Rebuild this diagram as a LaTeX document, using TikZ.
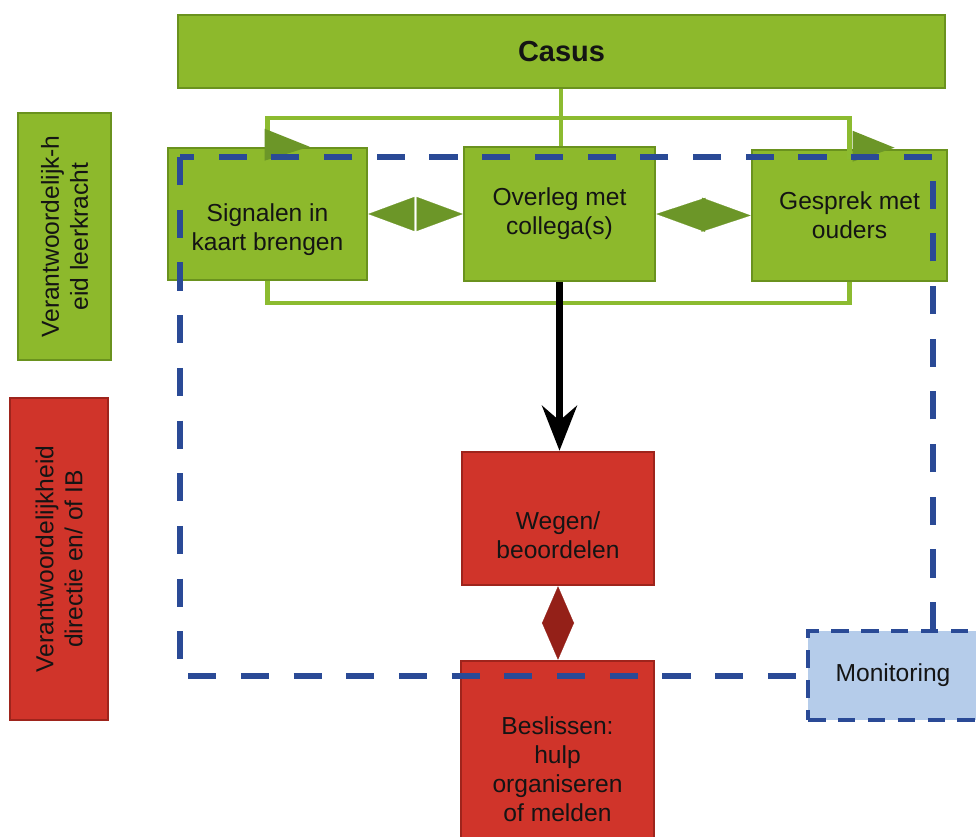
\documentclass[tikz,border=0pt]{standalone}
\usepackage{fontspec}
\setmainfont{Liberation Sans}
\usepackage{tikz}
\usetikzlibrary{shapes,arrows,arrows.meta,positioning}
\definecolor{gfill}{RGB}{141,185,44}
\definecolor{gedge}{RGB}{106,146,30}
\definecolor{glink}{RGB}{140,187,48}
\definecolor{gtip}{RGB}{108,150,40}
\definecolor{rfill}{RGB}{208,52,42}
\definecolor{redge}{RGB}{158,36,28}
\definecolor{rtip}{RGB}{148,32,24}
\definecolor{bdash}{RGB}{42,74,150}
\definecolor{mfill}{RGB}{181,204,234}

\begin{document}
\begin{tikzpicture}[x=0.02cm, y=-0.02cm,
		box/.style={draw, line width=1.5pt, align=center, inner sep=0pt, font=\fontsize{14}{16.5}\selectfont, text=black!92},
		gbox/.style={box, fill=gfill, draw=gedge},
		rbox/.style={box, fill=rfill, draw=redge},
		boxtext/.style={align=center, inner sep=0pt, font=\fontsize{14}{16.5}\selectfont, text=black!92},
		glink/.style={draw=glink, line width=2.4pt},
		bframe/.style={draw=bdash, line width=3pt, dash pattern=on 16pt off 14pt},
		gdiamond/.style={draw=white, line width=0.1pt, {Triangle[length=0.92cm,width=0.68cm,color=gtip]}-{Triangle[length=0.92cm,width=0.68cm,color=gtip]}}]
	\useasboundingbox (0,0) rectangle (976,837);
	\clip (0,0) rectangle (976,837);

	% labels left
	\node[gbox, rotate=90, minimum width=4.94cm, minimum height=1.86cm] (lblA) at (64.5,236.5) {Verantwoordelijk-h\\eid leerkracht};
	\node[rbox, rotate=90, minimum width=6.44cm, minimum height=1.96cm] (lblB) at (59,559) {Verantwoordelijkheid\\directie en/ of IB};

	% boxes
	\node[gbox, minimum width=15.34cm, minimum height=1.46cm, font=\fontsize{16.5}{19}\selectfont\bfseries] (casus) at (561.5,51.5) {Casus};
	\node[gbox, minimum width=3.98cm, minimum height=2.64cm] (sig) at (267.5,214) {};
	\node[boxtext] (sigtxt) at (267.5,230) {Signalen in\\kaart brengen};
	\node[gbox, minimum width=3.82cm, minimum height=2.68cm] (ovl) at (559.5,214) {Overleg met\\collega(s)};
	\node[gbox, minimum width=3.9cm, minimum height=2.62cm] (ges) at (849.5,215.5) {Gesprek met\\ouders};
	\node[rbox, minimum width=3.84cm, minimum height=2.66cm] (weg) at (558,518.5) {};
	\node[boxtext] (wegtxt) at (558,535) {Wegen/\\beoordelen};
	\node[rbox, minimum width=3.86cm, minimum height=4.32cm] (bes) at (557.5,769) {Beslissen:\\hulp\\organiseren\\of melden};

	% green links
	\coordinate (split) at (561,118);
	\draw[glink] (casus.south -| split) -- (ovl.north -| split);
	\draw[glink] (split) -| ([yshift=-0.24cm]sig.north);
	\draw[glink] (split) -| ([yshift=-0.2cm]ges.north);
	\draw[glink] (sig.south) -- ++(0,22) -| (ges.south);
	\fill[gtip] ([xshift=-0.06cm,yshift=0.36cm]sig.north) -- ++(45,18) -- ++(-45,14) -- cycle;
	\fill[gtip] ([xshift=0.06cm,yshift=0.36cm]ges.north) -- ++(42,17) -- ++(-42,14) -- cycle;
	\draw[gdiamond] (sig.east) -- (ovl.west);
	\draw[gdiamond, {Triangle[length=0.98cm,width=0.68cm,color=gtip]}-{Triangle[length=0.98cm,width=0.68cm,color=gtip]}] (ovl.east) -- (ges.west);

	% down to red
	\draw[line width=3.5pt, -{Stealth[length=0.9cm,width=0.7cm,inset=0.3cm]}] (ovl.south) -- (ovl.south |- weg.north);
	\draw[draw=white, line width=0.1pt, {Triangle[length=0.74cm,width=0.64cm,color=rtip]}-{Triangle[length=0.74cm,width=0.64cm,color=rtip]}] (weg.south) -- (weg.south |- bes.north);

	% blue frame and monitoring
	\draw[bframe] (180,157) rectangle (933,676);
	\node[box, fill=mfill, draw=bdash, line width=2.5pt, dash pattern=on 10pt off 7pt, minimum width=3.4cm, minimum height=1.78cm] (mon) at (893,675.5) {Monitoring};
\end{tikzpicture}
\end{document}
